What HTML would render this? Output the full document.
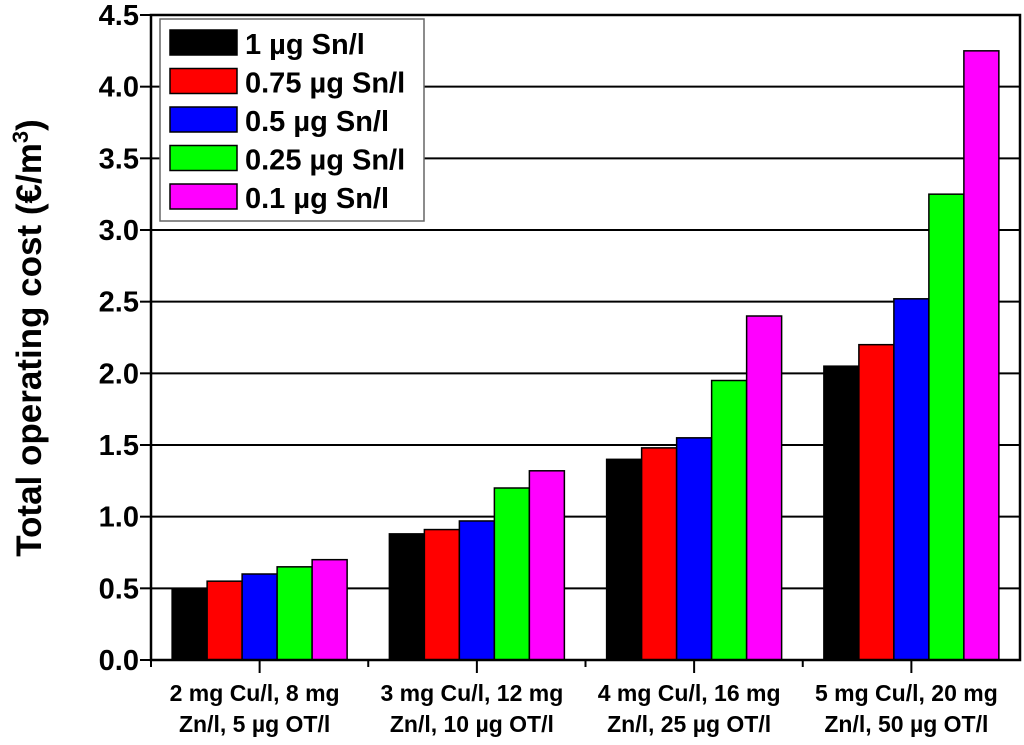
<!DOCTYPE html>
<html><head><meta charset="utf-8"><style>
body{margin:0;background:#fff}
svg{display:block;font-family:"Liberation Sans",Arial,sans-serif;font-weight:bold}
</style></head><body>
<svg id="chart" width="1024" height="745"></svg>
<script>
const categories=[["2 mg Cu/l, 8 mg","Zn/l, 5 µg OT/l"],["3 mg Cu/l, 12 mg","Zn/l, 10 µg OT/l"],["4 mg Cu/l, 16 mg","Zn/l, 25 µg OT/l"],["5 mg Cu/l, 20 mg","Zn/l, 50 µg OT/l"]];
const seriesNames=["1 µg Sn/l","0.75 µg Sn/l","0.5 µg Sn/l","0.25 µg Sn/l","0.1 µg Sn/l"];
const s1=[0.50,0.88,1.40,2.05];
const s075=[0.55,0.91,1.48,2.20];
const s05=[0.60,0.97,1.55,2.52];
const s025=[0.65,1.20,1.95,3.25];
const s01=[0.70,1.32,2.40,4.25];
const yTicks=["0.0","0.5","1.0","1.5","2.0","2.5","3.0","3.5","4.0","4.5"];
const series=[s1,s075,s05,s025,s01];
const colors=["#000000","#ff0000","#0000ff","#00ff00","#ff00ff"];
const NS="http://www.w3.org/2000/svg";
const svg=document.getElementById("chart");
const L=151,R=1020,T=15,B=660,yMax=4.5;
const y=v=>B-(v/yMax)*(B-T);
const gw=(R-L)/categories.length;
const bw=35;
const x=(g,i)=>L+gw*g+gw/2-bw*series.length/2+bw*i;
function mk(tag,a){const e=document.createElementNS(NS,tag);for(const k in a)e.setAttribute(k,a[k]);svg.appendChild(e);return e;}
yTicks.forEach((t,i)=>{const v=parseFloat(t);
 const g=mk("line",{x1:L,x2:R,y1:y(v),y2:y(v),stroke:"#000","stroke-width":2});
 
 
 const tk=mk("line",{x1:L-11,x2:L,y1:y(v),y2:y(v),stroke:"#000","stroke-width":2});
 
 
 const tx=mk("text",{x:L-12,y:y(v)+10,"text-anchor":"end","font-size":29});tx.textContent=t;
 
 
});
series.forEach((s,i)=>s.forEach((v,g)=>{
 const r=mk("rect",{x:x(g,i),y:y(v),width:bw,height:B-y(v),fill:colors[i],stroke:"#000","stroke-width":1.5});
 
 
}));
const ax=mk("path",{d:`M${L},${T}H${R}V${B}H${L}Z`,fill:"none",stroke:"#000","stroke-width":2.5});


categories.forEach((c,g)=>{
 const cx=L+gw*g+gw/2;
 const t=mk("line",{x1:cx,x2:cx,y1:B,y2:B+13,stroke:"#000","stroke-width":2});
 
 
 const m=mk("line",{x1:L+gw*g,x2:L+gw*g,y1:B,y2:B+7,stroke:"#000","stroke-width":2});
 
 
 c.forEach((ln,k)=>{const tx=mk("text",{x:cx-5,y:701+k*31,"text-anchor":"middle","font-size":23});tx.textContent=ln;
  
  });
});
const yt=mk("text",{transform:"translate(41,338) rotate(-90)","text-anchor":"middle","font-size":35});
yt.innerHTML='Total operating cost (€/m<tspan dy="-13" font-size="22">3</tspan><tspan dy="13">)</tspan>';


const lb=mk("rect",{x:160,y:19,width:264,height:202,fill:"#fff",stroke:"#666","stroke-width":1.5});


seriesNames.forEach((n,i)=>{
 const yy=30+i*38.5;
 const sw=mk("rect",{x:170,y:yy,width:67,height:25,fill:colors[i],stroke:"#000","stroke-width":1.5});
 
 
 const tx=mk("text",{x:245,y:yy+24,"font-size":29});tx.textContent=n;
 
 
});
</script>
</body></html>
